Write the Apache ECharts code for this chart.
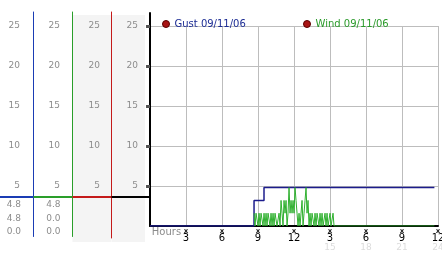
<!DOCTYPE html>
<html><head><meta charset="utf-8">
<script src="https://cdn.jsdelivr.net/npm/echarts@6/dist/echarts.min.js"></script>
<style>html,body{margin:0;padding:0;background:#fff}#c{width:442px;height:253px}</style>
</head><body><div id="c"></div>
<script>
// ---- data ----
const gustName = 'Gust 09/11/06';
const windName = 'Wind 09/11/06';
const gustHours = [0, 8.67, 9.5, 23.7];
const gustValues = [0, 3.2, 4.8, 4.8];
const windStartHour = 8.67;
const windStepMinutes = 5;
const windValues = [
  1.6,0,1.6,1.6,0,1.6,0,1.6,1.6,0,1.6,0,1.6,0,1.6,1.6,0,1.6,0,1.6,0,1.6,1.6,0,
  0,1.6,0,3.2,1.6,0,3.2,1.6,3.2,0,1.6,
  4.8,
  1.6,3.2,1.6,3.2,1.6,
  4.8,
  3.2,1.6,0,1.6,0,1.6,3.2,0,1.6,3.2,
  4.8,
  1.6,3.2,0,1.6,0,1.6,1.6,0,1.6,0,1.6,1.6,0,1.6,0,1.6,0,0,1.6,0,1.6,0,0,1.6,0,0,1.6,0,0,0
];
const windTailHour = 23.7;
const windTailValue = 0;
const yTickValues = [5, 10, 15, 20, 25];
const xTickLabels = ['Hours', '3', '6', '9', '12', '3', '6', '9', '12'];
const xTickLabels24 = ['', '', '', '', '', '15', '18', '21', '24'];
const statsGust = ['4.8', '4.8', '0.0'];
const statsWind = ['4.8', '0.0', '0.0'];
const separatorValue = 3.625;

// ---- build ----
const FONT = 'DejaVu Sans';
const gustData = gustHours.map((h, i) => [h, gustValues[i]]);
const windData = windValues.map((v, i) => [windStartHour + i * windStepMinutes / 60, v]);
windData.push([windTailHour, windTailValue]);

const cols = [
  {left: 0, width: 33.5, top: 12, bottom: 16.5, min: -1.3125, max: 26.75, color: '#1a3cb4', margin: 13.5},
  {left: 33.5, width: 39, top: 12, bottom: 16.5, min: -1.3125, max: 26.75, color: '#2a9e2a', margin: 12.5},
  {left: 72.5, width: 39, top: 12, bottom: 15, min: -1.5, max: 26.75, color: '#c41a1a', margin: 11.5},
  {left: 111.5, width: 38.5, top: 13, bottom: 27, min: 0, max: 26.625, color: '#000', margin: 12, main: true}
];

const grids = [], xAxes = [], yAxes = [], series = [];
cols.forEach((c, i) => {
  grids.push({left: c.left, width: c.width, top: c.top, bottom: c.bottom, containLabel: false, outerBoundsMode: 'none'});
  xAxes.push({gridIndex: i, type: 'value', min: 0, max: 1, show: false});
  yAxes.push({
    gridIndex: i, type: 'value', position: 'right', min: c.min, max: c.max,
    axisLine: {show: true, onZero: false, lineStyle: {color: c.color, width: c.main ? 2 : 1}},
    axisTick: c.main ? {show: true, inside: true, length: 4, customValues: yTickValues, lineStyle: {color: '#555', width: 3}} : {show: false},
    splitLine: {show: false},
    axisLabel: {inside: true, margin: c.margin, customValues: yTickValues, color: '#8c8c8c', fontSize: 9, fontFamily: FONT}
  });
  series.push({
    type: 'line', name: 'sep' + i, xAxisIndex: i, yAxisIndex: i, data: [], silent: true,
    markLine: {silent: true, symbol: 'none', label: {show: false}, animation: false,
      lineStyle: {color: c.color, width: 2, type: 'solid'}, data: [{yAxis: separatorValue}]}
  });
});

// main plot
grids.push({left: 150, right: 4, top: 26, bottom: 27, containLabel: false, outerBoundsMode: 'none'});
xAxes.push({
  gridIndex: 4, type: 'value', min: 0, max: 24, interval: 3,
  axisLine: {show: true, onZero: false, lineStyle: {color: '#000', width: 2}},
  axisTick: {show: false},
  splitLine: {show: true, showMinLine: false, lineStyle: {color: '#bdbdbd', width: 1}},
  axisLabel: {
    margin: 2, showMinLabel: true, showMaxLabel: true,
    formatter: v => {
      const i = Math.round(v / 3);
      if (i === 0) return '{h|' + xTickLabels[0] + '}';
      let s = '{m|x}\n{v|' + xTickLabels[i] + '}';
      if (xTickLabels24[i]) s += '\n{p|' + xTickLabels24[i] + '}';
      return s;
    },
    rich: {
      h: {color: '#8c8c8c', fontSize: 10, fontFamily: FONT, lineHeight: 8, padding: [0, 0, 0, 33]},
      m: {color: '#222', fontSize: 7, fontWeight: 'bold', fontFamily: FONT, lineHeight: 6},
      v: {color: '#000', fontSize: 10, fontFamily: FONT, lineHeight: 9},
      p: {color: '#dcdcdc', fontSize: 9, fontFamily: FONT, lineHeight: 9}
    }
  }
});
yAxes.push({
  gridIndex: 4, type: 'value', min: 0, max: 25, interval: 5,
  axisLine: {show: false}, axisTick: {show: false}, axisLabel: {show: false},
  splitLine: {show: true, showMinLine: false, lineStyle: {color: '#bdbdbd', width: 1}}
});
series.push({
  type: 'line', name: gustName, xAxisIndex: 4, yAxisIndex: 4, step: 'end',
  data: gustData, showSymbol: false, symbol: 'none',
  lineStyle: {color: '#1c1c8c', width: 1.5}, itemStyle: {color: '#1c1c8c'}
});
series.push({
  type: 'line', name: windName, xAxisIndex: 4, yAxisIndex: 4, step: 'end',
  data: windData, showSymbol: false, symbol: 'none',
  lineStyle: {color: '#2fb02f', width: 1}, itemStyle: {color: '#2fb02f'}
});

const statTexts = [];
[[statsGust, 21], [statsWind, 60.5]].forEach(([arr, x]) => {
  arr.forEach((t, r) => {
    statTexts.push({type: 'text', x: x, y: 205 + r * 13.3, z: 10,
      style: {text: t, fill: '#8c8c8c', font: '9px "DejaVu Sans"', align: 'right', verticalAlign: 'middle'}});
  });
});

const option = {
  animation: false,
  backgroundColor: '#fff',
  grid: grids, xAxis: xAxes, yAxis: yAxes, series: series,
  legend: [
    {data: [{name: gustName, itemStyle: {color: '#a81414', borderColor: '#5a0000', borderWidth: 1}, textStyle: {color: '#1c2c94'}}],
     left: 157, top: 14, itemWidth: 7, itemHeight: 7, icon: 'circle', selectedMode: false,
     textStyle: {fontSize: 10, fontFamily: FONT}},
    {data: [{name: windName, itemStyle: {color: '#a81414', borderColor: '#5a0000', borderWidth: 1}, textStyle: {color: '#2a9a2a'}}],
     left: 298, top: 14, itemWidth: 7, itemHeight: 7, icon: 'circle', selectedMode: false,
     textStyle: {fontSize: 10, fontFamily: FONT}}
  ],
  graphic: [
    {type: 'rect', z: -1, shape: {x: 72.5, y: 15, width: 39, height: 227}, style: {fill: '#f4f4f4'}},
    {type: 'rect', z: -1, shape: {x: 112, y: 15, width: 33, height: 227}, style: {fill: '#f4f4f4'}}
  ].concat(statTexts)
};
const chart = echarts.init(document.getElementById('c'), null, {renderer: 'canvas'});
chart.setOption(option);
</script></body></html>
